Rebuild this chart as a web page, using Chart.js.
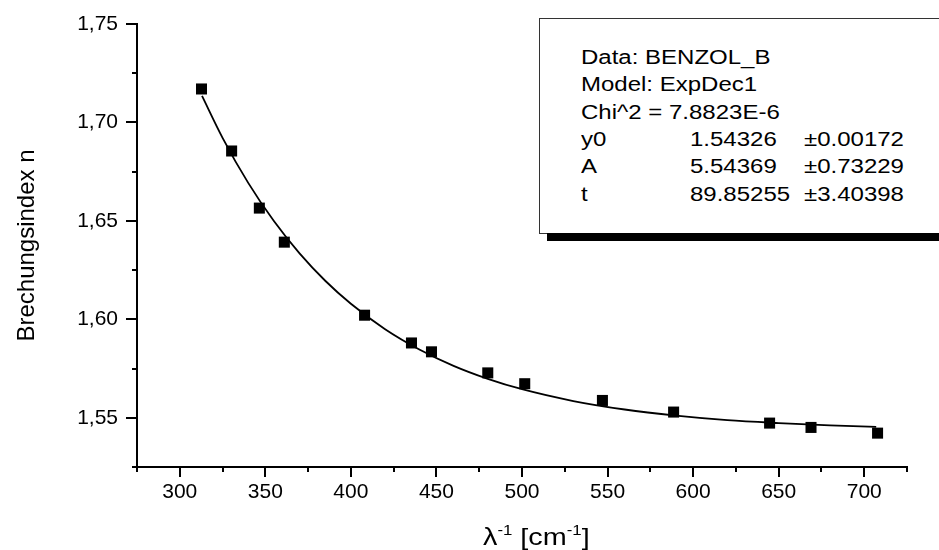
<!DOCTYPE html>
<html>
<head>
<meta charset="utf-8">
<script src="https://cdn.jsdelivr.net/npm/chart.js@4"></script>
<style>
  body { margin: 0; background: #fff; }
  #wrap { position: relative; width: 939px; height: 550px; overflow: hidden; font-family: Arial, "Liberation Sans", sans-serif; color: #000; }
  #chart { position: absolute; left: 0; top: 0; }
  .fitbox { position: absolute; left: 539px; top: 18px; width: 420px; height: 214px; border: 1px solid #333; background: #fff; }
  .shadow { position: absolute; left: 547px; top: 233px; width: 400px; height: 8px; background: #000; }
  .cell { position: absolute; font-size: 20px; line-height: 20px; white-space: nowrap; transform: scaleX(1.2); transform-origin: left top; }
  .xtitle { position: absolute; left: 483px; top: 525px; font-size: 24px; line-height: 24px; white-space: nowrap; transform: scaleX(1.2); transform-origin: left top; }
  .xtitle sup { font-size: 14px; vertical-align: 10px; line-height: 0; }
</style>
</head>
<body>
<div id="wrap">
  <canvas id="chart" width="939" height="550"></canvas>
  <div class="fitbox"></div>
  <div class="shadow"></div>
  <div id="fitinfo"></div>
  <div class="xtitle">λ<sup>-1</sup> [cm<sup>-1</sup>]</div>
</div>
<script>
// measured points (wavenumber, refractive index)
const waveNum = [312.7, 330.3, 346.5, 361.1, 408, 435.4, 447.1, 480, 501.6, 547, 588.6, 644.7, 668.9, 707.8];
const refrIdx = [1.717, 1.6855, 1.6565, 1.6392, 1.6021, 1.588, 1.5835, 1.5728, 1.5673, 1.5588, 1.5529, 1.5473, 1.5451, 1.5422];

// fitted ExpDec1 curve
const fitX = [313, 325, 340, 355, 370, 385, 400, 420, 440, 460, 480, 500, 530, 560, 590, 620, 650, 680, 707];
const fitY = [1.7135, 1.6922, 1.6693, 1.6499, 1.6335, 1.6196, 1.6079, 1.5950, 1.5847, 1.5764, 1.5698, 1.5645, 1.5585, 1.5542, 1.5511, 1.5488, 1.5473, 1.5461, 1.5454];

const fitLines = [
  ["Data: BENZOL_B"],
  ["Model: ExpDec1"],
  ["Chi^2 = 7.8823E-6"],
  ["y0", "1.54326", "±0.00172"],
  ["A", "5.54369", "±0.73229"],
  ["t", "89.85255", "±3.40398"],
];

const colX = [581, 690, 804];
const rowTop = [47, 74.3, 101.6, 128.9, 156.2, 183.5];

function buildFitInfo() {
  const box = document.getElementById("fitinfo");
  fitLines.forEach((row, i) => {
    row.forEach((txt, j) => {
      const d = document.createElement("div");
      d.className = "cell";
      d.style.left = colX[j] + "px";
      d.style.top = rowTop[i] + "px";
      d.textContent = txt;
      box.appendChild(d);
    });
  });
}

const isMajorX = (v) => Math.round(v) % 50 === 0;
const isMajorY = (v) => Math.round(v * 1000) % 50 === 0;

// outward major/minor tick marks, placed with the chart's own scales
const tickMarks = {
  id: "tickMarks",
  afterDraw(chart) {
    const ctx = chart.ctx;
    const xs = chart.scales.x;
    const ys = chart.scales.y;
    ctx.save();
    ctx.strokeStyle = "#000";
    ctx.lineWidth = 2;
    ctx.beginPath();
    xs.ticks.forEach((t) => {
      const px = Math.round(xs.getPixelForValue(t.value));
      const len = isMajorX(t.value) ? 10 : 5;
      ctx.moveTo(px, xs.top);
      ctx.lineTo(px, xs.top + len);
    });
    ys.ticks.forEach((t) => {
      const py = Math.round(ys.getPixelForValue(t.value));
      const len = isMajorY(t.value) ? 11 : 5;
      ctx.moveTo(ys.right, py);
      ctx.lineTo(ys.right - len, py);
    });
    ctx.stroke();
    ctx.restore();
  },
};

const tickFont = { family: "Arial, 'Liberation Sans', sans-serif", size: 21 };

new Chart(document.getElementById("chart"), {
  type: "scatter",
  data: {
    datasets: [
      {
        label: "BENZOL_B",
        data: waveNum.map((x, i) => ({ x, y: refrIdx[i] })),
        pointStyle: "rect",
        pointRadius: 7.8,
        pointHoverRadius: 7.8,
        pointBackgroundColor: "#000",
        pointBorderWidth: 0,
        showLine: false,
        order: 1,
      },
      {
        label: "ExpDec1",
        data: fitX.map((x, i) => ({ x, y: fitY[i] })),
        showLine: true,
        borderColor: "#000",
        borderWidth: 1.8,
        pointRadius: 0,
        cubicInterpolationMode: "monotone",
        fill: false,
        order: 2,
      },
    ],
  },
  options: {
    responsive: false,
    animation: false,
    devicePixelRatio: 1,
    layout: { padding: { left: 0, top: 24, right: 32, bottom: 0 } },
    plugins: { legend: { display: false }, tooltip: { enabled: false } },
    scales: {
      x: {
        type: "linear",
        min: 275,
        max: 725,
        grid: { display: false, drawTicks: false },
        border: { display: true, color: "#000", width: 2 },
        ticks: {
          stepSize: 25,
          autoSkip: false,
          maxRotation: 0,
          padding: 13,
          color: "#000",
          font: tickFont,
          callback: (v) => (isMajorX(v) ? String(Math.round(v)) : ""),
        },
        afterFit: (s) => { s.height = 83; },
      },
      y: {
        type: "linear",
        min: 1.525,
        max: 1.75,
        grid: { display: false, drawTicks: false },
        border: { display: true, color: "#000", width: 2 },
        ticks: {
          stepSize: 0.025,
          autoSkip: false,
          padding: 19,
          color: "#000",
          font: tickFont,
          callback: (v) => (isMajorY(v) ? v.toFixed(2).replace(".", ",") : ""),
        },
        title: {
          display: true,
          text: "Brechungsindex n",
          color: "#000",
          font: { family: "Arial, 'Liberation Sans', sans-serif", size: 24 },
          padding: { top: 13, bottom: 0 },
        },
        afterFit: (s) => {
          s.width = 137;
          s.paddingTop = 0;
          s.paddingBottom = 0;
        },
      },
    },
  },
  plugins: [tickMarks],
});

buildFitInfo();
</script>
</body>
</html>
